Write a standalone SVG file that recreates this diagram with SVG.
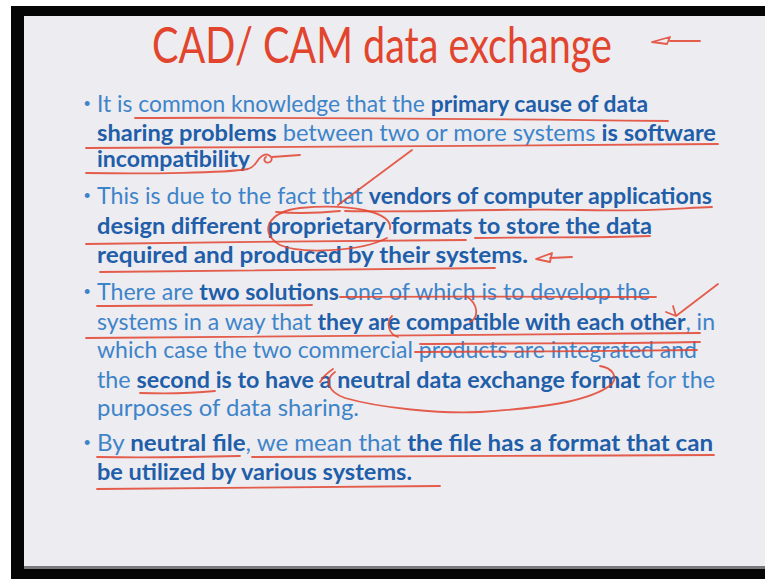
<svg xmlns="http://www.w3.org/2000/svg" width="765" height="579" viewBox="0 0 765 579">
<style>
.t{font-family:Lato,"Open Sans","Liberation Sans",sans-serif;font-size:23px;fill:#3d84c9}
.b{font-weight:bold;fill:#1f5ea8}
.ttl{font-family:Lato,"Open Sans","Liberation Sans",sans-serif;font-size:50px;fill:#e2452e}
.bul{font-family:"Liberation Sans",sans-serif;font-size:18px;fill:#3d84c9}
.ink{fill:none;stroke:#e2432e;stroke-width:1.8;stroke-linecap:round;stroke-linejoin:round;opacity:0.85}
</style>
<rect width="765" height="579" fill="#ffffff"/>
<rect x="11" y="6" width="754" height="573" fill="#050505"/>
<rect x="24" y="16" width="741" height="553" fill="#edecf1"/>
<rect x="24" y="566" width="741" height="3" fill="#7a7a7e"/>
<g id="title">
<text class="ttl" x="152" y="63" textLength="460" lengthAdjust="spacingAndGlyphs">CAD/ CAM data exchange</text>
</g>
<g id="bullets">
<text class="bul" x="84" y="110">•</text>
<text class="bul" x="84" y="202">•</text>
<text class="bul" x="84" y="298">•</text>
<text class="bul" x="84" y="449">•</text>
</g>
<g id="text">
<text class="t" x="97" y="112" textLength="551" lengthAdjust="spacingAndGlyphs">It is common knowledge that the <tspan class="b">primary cause of data</tspan></text>
<text class="t" x="97" y="141" textLength="619" lengthAdjust="spacingAndGlyphs"><tspan class="b">sharing problems</tspan> between two or more systems <tspan class="b">is software</tspan></text>
<text class="t b" x="97" y="167" textLength="153" lengthAdjust="spacingAndGlyphs">incompatibility</text>
<text class="t" x="97" y="204" textLength="615" lengthAdjust="spacingAndGlyphs">This is due to the fact that <tspan class="b">vendors of computer applications</tspan></text>
<text class="t b" x="97" y="234" textLength="555" lengthAdjust="spacingAndGlyphs">design different proprietary formats to store the data</text>
<text class="t b" x="97" y="263" textLength="431" lengthAdjust="spacingAndGlyphs">required and produced by their systems.</text>
<text class="t" x="97" y="300" textLength="553" lengthAdjust="spacingAndGlyphs">There are <tspan class="b">two solutions</tspan> one of which is to develop the</text>
<text class="t" x="97" y="330" textLength="618" lengthAdjust="spacingAndGlyphs">systems in a way that <tspan class="b">they are compatible with each other</tspan>, in</text>
<text class="t" x="97" y="358" textLength="600" lengthAdjust="spacingAndGlyphs">which case the two commercial products are integrated and</text>
<text class="t" x="97" y="388" textLength="618" lengthAdjust="spacingAndGlyphs">the <tspan class="b">second is to have a neutral data exchange format</tspan> for the</text>
<text class="t" x="97" y="416" textLength="262" lengthAdjust="spacingAndGlyphs">purposes of data sharing.</text>
<text class="t" x="97" y="451" textLength="616" lengthAdjust="spacingAndGlyphs">By <tspan class="b">neutral file</tspan>, we mean that <tspan class="b">the file has a format that can</tspan></text>
<text class="t b" x="97" y="480" textLength="315" lengthAdjust="spacingAndGlyphs">be utilized by various systems.</text>
</g>
<g id="annotations">
<path class="ink" d="M652,42 L670,37 L667,44 Z M670,41 L700,41"/>
<path class="ink" d="M135,118 C300,117 500,119 668,121"/>
<path class="ink" d="M86,148 C250,147 500,146 718,144"/>
<path class="ink" d="M86,173 C150,174 225,173 248,169 C256,167 256,160 262,156 C268,152 275,158 270,162 C266,164 262,160 266,157 M272,157 L300,155"/>
<path class="ink" d="M412,150 L338,205"/>
<path class="ink" d="M276,212 C300,214 320,213 340,211 M345,211 C420,213 500,208 580,210 C640,212 680,208 712,207"/>
<path class="ink" d="M390,229 C393,212 350,203 300,208 C268,212 258,232 280,245 C300,254 360,252 387,238"/>
<path class="ink" d="M86,244 C200,242 350,241 466,240 M475,238 C550,237 600,238 650,236"/>
<path class="ink" d="M100,272 C250,271 400,270 495,268"/>
<path class="ink" d="M536,259 L552,253 L550,262 Z M550,258 L572,257"/>
<path class="ink" d="M97,306 C180,305 260,306 312,305"/>
<path class="ink" d="M340,297 C450,296 560,297 656,297"/>
<path class="ink" d="M466,296 C480,305 478,318 470,322"/>
<path class="ink" d="M718,284 L676,316 M666,312 L676,316 L673,306"/>
<path class="ink" d="M392,316 C386,322 388,334 398,337"/>
<path class="ink" d="M86,338 C300,336 500,335 700,333"/>
<path class="ink" d="M420,344 C520,343 600,344 700,342"/>
<path class="ink" d="M415,352 C520,352 600,351 697,350"/>
<path class="ink" d="M140,393 C170,394 195,393 215,391"/>
<path class="ink" d="M320,382 C323,377 327,373 333,369"/>
<path class="ink" d="M335,372 C324,380 328,392 345,398 C380,408 440,414 480,412 C540,408 590,402 612,384 C618,376 612,368 600,366"/>
<path class="ink" d="M97,457 C150,458 200,457 240,456 M252,457 C400,456 560,456 714,455"/>
<path class="ink" d="M97,489 C200,488 320,488 440,486"/>
</g>
</svg>
